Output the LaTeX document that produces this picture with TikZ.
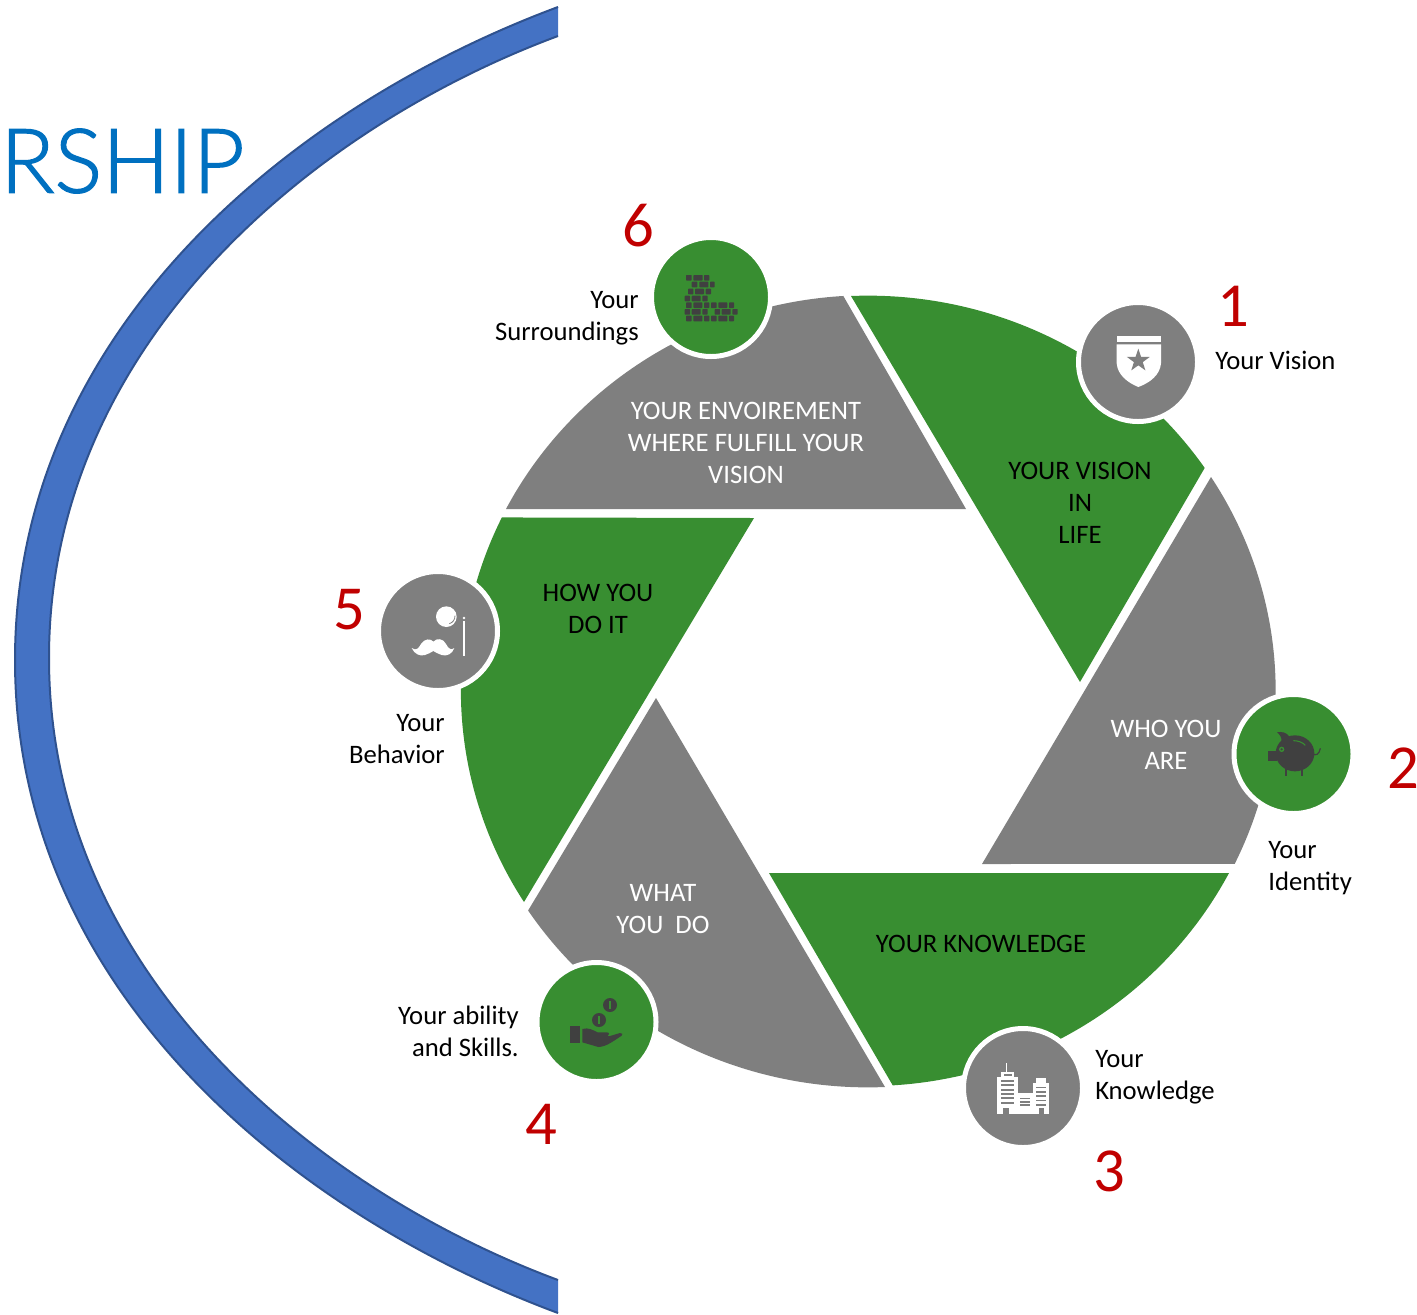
\documentclass[tikz,border=0pt]{standalone}
\usepackage{fontspec}
\setmainfont{Carlito}
\font\titlefont="Lato Light:embolden=1.5" at 67pt
\definecolor{wgreen}{HTML}{388E31}
\definecolor{wgray}{HTML}{7F7F7F}
\definecolor{dark}{HTML}{404040}
\definecolor{crescent}{HTML}{4472C4}
\definecolor{crescentedge}{HTML}{2F528F}
\definecolor{numred}{HTML}{C00000}
\definecolor{titleblue}{HTML}{0070C0}
\tikzset{
  wedgegreen/.style={fill=wgreen},
  wedgegray/.style={fill=wgray},
  disc/.style={circle,inner sep=0pt,outer sep=0pt,minimum size=89.25pt,draw=white,line width=3.75pt},
  disc green/.style={disc,fill=wgreen},
  disc gray/.style={disc,fill=wgray},
  inner text/.style={align=center,font=\fontsize{20}{24}\selectfont},
  on green/.style={inner text,text=black},
  on gray/.style={inner text,text=white},
  side right/.style={anchor=east,align=right,font=\fontsize{20}{24}\selectfont,text=black},
  side left/.style={anchor=west,align=left,font=\fontsize{20}{24}\selectfont,text=black},
  number/.style={font=\fontsize{47}{47}\selectfont,text=numred},
  icon/.style={x=.25pt,y=-.25pt}
}
\begin{document}
\begin{tikzpicture}[x=.75pt,y=-.75pt]
\useasboundingbox (0,0) rectangle (1417,1314);
% title
\node[anchor=west,inner sep=0pt,font=\titlefont,text=titleblue] (title) at (0,161) {RSHIP};
% crescent: filled shape, then only its two long edges stroked
\fill[crescent]
  (558,7) .. controls (293,105.6) and (15,330) .. (15,660)
  .. controls (15,990) and (293,1214.4) .. (558,1313)
  -- (558,1280) .. controls (308,1187) and (49,968) .. (49,658)
  .. controls (49,348) and (308,129) .. (558,36) -- cycle;
\draw[crescentedge,line width=1.5pt]
  (558,7) .. controls (293,105.6) and (15,330) .. (15,660)
  .. controls (15,990) and (293,1214.4) .. (558,1313);
\draw[crescentedge,line width=1.5pt]
  (558,1280) .. controls (308,1187) and (49,968) .. (49,658)
  .. controls (49,348) and (308,129) .. (558,36);
% wedges
\fill[wedgegreen] (851,296) arc[start angle=92.4,end angle=34.4,x radius=306pt,y radius=297pt] -- (1080,682) -- cycle;
\fill[wedgegray] (1211,477) arc[start angle=32.7,end angle=-25.9,x radius=306pt,y radius=297pt] -- (982,864) -- cycle;
\fill[wedgegreen] (1229,873) arc[start angle=-27.5,end angle=-86.4,x radius=306pt,y radius=297pt] -- (769,873) -- cycle;
\fill[wedgegray] (885,1087) arc[start angle=-87.6,end angle=-146.4,x radius=306pt,y radius=297pt] -- (656,698) -- cycle;
\fill[wedgegreen] (524,902) arc[start angle=-147.7,end angle=-205.9,x radius=306pt,y radius=297pt] -- (754,518) -- cycle;
\fill[wedgegray] (506,509) arc[start angle=152.6,end angle=93.5,x radius=306pt,y radius=297pt] -- (966,509) -- cycle;
% discs
\node[disc gray] (d1) at (1138,362) {};
\node[disc green] (d2) at (1293.5,754) {};
\node[disc gray] (d3) at (1023,1088) {};
\node[disc green] (d4) at (596.5,1022) {};
\node[disc gray] (d5) at (438,631) {};
\node[disc green] (d6) at (711,297) {};
% icon 1: shield
\begin{scope}[shift={(1075,300)},icon]
  \fill[white] (125,107) rectangle (258,127);
  \fill[white] (125,133) -- (258,133) -- (258,190) .. controls (255,225) and (225,248) .. (190,261) .. controls (158,248) and (128,225) .. (125,190) -- cycle;
  \fill[wgray] (190,146) -- (198.2,170.7) -- (224.2,170.9) -- (203.3,186.3) -- (211.2,211.1) -- (190,196) -- (168.8,211.1) -- (176.7,186.3) -- (155.8,170.9) -- (181.8,170.7) -- cycle;
\end{scope}
% icon 2: piggy bank
\begin{scope}[shift={(1230,690)},icon]
  \fill[dark] (195,190) ellipse[x radius=14.5pt,y radius=13.5pt];
  \fill[dark] (113,182) rectangle (140,212);
  \fill[dark] (141,127) .. controls (155,124) and (170,127) .. (178,140) -- (155,155) .. controls (155,142) and (150,134) .. (141,127) -- cycle;
  \fill[dark] (166,225) rectangle (171,258);
  \fill[dark] (214,225) rectangle (219,258);
  \draw[dark,line width=.9pt] (245,190) .. controls (258,200) and (268,192) .. (271,175);
  \fill[wgreen] (155,178) circle[radius=2pt];
  \fill[dark] (155,178) circle[radius=.9pt];
  \draw[wgreen,line width=.8pt] (190,152) .. controls (205,152) and (218,157) .. (226,166);
\end{scope}
% icon 3: buildings
\begin{scope}[shift={(960,1025)},icon]
  \fill[white] (110,157) rectangle (175,268);
  \fill[white] (122,140) rectangle (162,157);
  \fill[white] (137,113) rectangle (141,140);
  \fill[white] (175,205) rectangle (218,268);
  \fill[white] (218,175) rectangle (268,268);
  \fill[white] (228,160) rectangle (258,175);
  \fill[wgray] (133,148) rectangle (155,152);
  \foreach \r in {165,178,191,204,217,230} \fill[wgray] (122,\r) rectangle (162,\r+6);
  \foreach \r in {185,198,211,224,237} \fill[wgray] (228,\r) rectangle (258,\r+5);
  \foreach \r in {218,228,238} \fill[wgray] (180,\r) rectangle (210,\r+5);
  \fill[wgray] (130,248) rectangle (148,268);
  \fill[wgray] (237,250) rectangle (252,268);
\end{scope}
% icon 4: hand and coins
\begin{scope}[shift={(535,955)},icon]
  \fill[dark] (105,213) rectangle (135,265);
  \fill[dark] (142,222) .. controls (160,216) and (175,226) .. (188,232) -- (215,232) .. controls (224,232) and (224,240) .. (218,243) -- (192,243) -- (225,243) -- (255,234) .. controls (262,234) and (265,238) .. (260,242) .. controls (235,258) and (215,275) .. (190,276) -- (142,262) -- cycle;
  \fill[dark] (225,150) circle[radius=5.25pt];
  \fill[wgreen] (222,138) rectangle (228,162);
  \fill[dark] (192,195) circle[radius=5.25pt];
  \fill[wgreen] (189,183) rectangle (195,207);
\end{scope}
% icon 5: monocle and moustache
\begin{scope}[shift={(375,570)},icon]
  \fill[white] (214,140) circle[radius=7.75pt];
  \draw[wgray,line width=.6pt] (240,137) .. controls (240,149) and (234,157) .. (223,161);
  \fill[white] (265,152) rectangle (270,258);
  \fill[white] (267,144) circle[radius=1pt];
  \fill[white] (110,234) .. controls (125,245) and (132,232) .. (138,222) .. controls (148,205) and (168,205) .. (175,215) .. controls (185,203) and (205,205) .. (213,222) .. controls (220,235) and (228,243) .. (238,234) .. controls (232,252) and (215,260) .. (200,255) .. controls (190,252) and (182,247) .. (175,243) .. controls (168,247) and (160,252) .. (150,255) .. controls (135,260) and (118,252) .. (110,234) -- cycle;
\end{scope}
% icon 6: bricks
\begin{scope}[shift={(650,230)},icon]
  \foreach \r/\a/\b in {135/108/125,135/130/158,135/162/178,
     155/125/142,155/148/175,155/180/194,
     176/114/130,176/135/162,176/167/183,
     197/104/120,197/125/152,197/157/173,
     217/108/125,217/130/157,217/162/178,217/183/200,217/205/232,217/237/252,
     237/104/120,237/125/152,237/157/173,237/194/210,237/215/242,237/247/263,
     257/108/125,257/130/157,257/162/178,257/183/200,257/205/232,257/237/252}
    \fill[dark,rounded corners=.5pt] (\a,\r) rectangle (\b,\r+17);
\end{scope}
% wedge texts
\node[on green] (t1) at (1080,503) {YOUR VISION\\IN\\LIFE};
\node[on gray] (t2) at (1166,745) {WHO YOU\ \\ARE};
\node[on green] (t3) at (981,944) {YOUR KNOWLEDGE};
\node[on gray] (t4) at (663,909) {WHAT\\YOU\ \ DO};
\node[on green] (t5) at (598,609) {HOW YOU\\DO IT};
\node[on gray] (t6) at (746,443) {YOUR ENVOIREMENT\\WHERE FULFILL YOUR\\VISION};
% side labels
\node[side left,inner sep=0pt] (l1) at (1215,360) {Your Vision};
\node[side left,inner sep=0pt] (l2) at (1268,868) {Your\\Identity};
\node[side left,inner sep=0pt] (l3) at (1095,1077) {Your\\Knowledge};
\node[side right,inner sep=0pt] (l4) at (519,1031) {Your ability\\and Skills.};
\node[side right,inner sep=0pt] (l5) at (445,739) {Your\\Behavior};
\node[side right,inner sep=0pt] (l6) at (639,318) {Your\\Surroundings};
% numbers
\node[number] (n1) at (1233,306) {1};
\node[number] (n2) at (1403,768) {2};
\node[number] (n3) at (1109,1171) {3};
\node[number] (n4) at (541,1124) {4};
\node[number] (n5) at (349,610) {5};
\node[number] (n6) at (638,226) {6};
\end{tikzpicture}
\end{document}
